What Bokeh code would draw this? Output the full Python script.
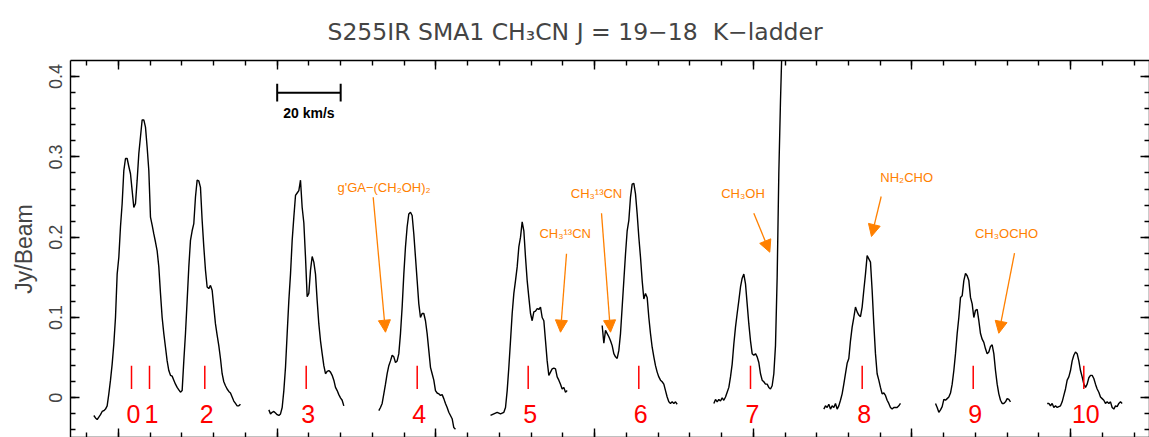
import numpy as np
from bokeh.plotting import figure
from bokeh.models import (Range1d, LinearAxis, SingleIntervalTicker, CustomJSTickFormatter,
                          Arrow, NormalHead)
from bokeh.core.properties import value
from bokeh.embed import file_html
from bokeh.resources import INLINE

# ---------------- data ----------------
TITLE = "S255IR SMA1 CH\u2083CN J = 19\u221218 \u00a0K\u2212ladder"
Y_LABEL = "Jy/Beam"
SCALE_BAR_TEXT = "20 km/s"
scale_bar_kms = 20.0

channel_width = 0.525  # km/s per channel (velocity axis, no labels shown)

# start velocity of each spectral window (km/s on the concatenated axis)
seg_start = [42.23, 97.37, 132.02, 167.21, 202.39, 237.57, 272.22, 307.41, 342.59]

flux_k012 = [-0.022, -0.025, -0.027, -0.024, -0.021, -0.017, -0.016, -0.014, -0.010, 0.005,
             0.022, 0.042, 0.067, 0.100, 0.154, 0.175, 0.213, 0.242, 0.283, 0.298,
             0.298, 0.288, 0.279, 0.258, 0.237, 0.242, 0.271, 0.304, 0.325, 0.346,
             0.346, 0.337, 0.312, 0.283, 0.225, 0.215, 0.204, 0.194, 0.183, 0.163,
             0.130, 0.100, 0.080, 0.063, 0.046, 0.034, 0.028, 0.027, 0.022, 0.017,
             0.013, 0.010, 0.007, 0.009, 0.046, 0.080, 0.121, 0.163, 0.196, 0.208,
             0.217, 0.250, 0.271, 0.270, 0.262, 0.221, 0.188, 0.159, 0.138, 0.136,
             0.140, 0.134, 0.113, 0.092, 0.078, 0.065, 0.049, 0.030, 0.020, 0.015,
             0.011, 0.008, 0.006, 0.001, -0.004, -0.007, -0.010, -0.010, -0.008]
flux_k3 = [-0.015, -0.020, -0.018, -0.017, -0.019, -0.021, -0.022, -0.020, -0.012, 0.009,
           0.038, 0.080, 0.121, 0.154, 0.196, 0.225, 0.252, 0.255, 0.258, 0.271,
           0.237, 0.218, 0.175, 0.126, 0.130, 0.159, 0.176, 0.169, 0.154, 0.121,
           0.092, 0.071, 0.055, 0.040, 0.030, 0.033, 0.034, 0.032, 0.028, 0.022,
           0.013, 0.009, 0.004, 0.000, -0.003, -0.010]
flux_k4 = [-0.016, -0.012, -0.007, 0.005, 0.017, 0.030, 0.040, 0.046, 0.053, 0.051,
           0.044, 0.046, 0.055, 0.080, 0.113, 0.154, 0.188, 0.213, 0.229, 0.231,
           0.227, 0.204, 0.175, 0.146, 0.117, 0.100, 0.105, 0.105, 0.096, 0.080,
           0.059, 0.038, 0.030, 0.022, 0.009, 0.006, 0.005, 0.003, 0.004, -0.001,
           -0.007, -0.012, -0.018, -0.022, -0.026, -0.037, -0.039]
flux_k5 = [-0.022, -0.021, -0.020, -0.019, -0.018, -0.019, -0.020, -0.019, -0.018, -0.012,
           0.009, 0.038, 0.071, 0.105, 0.130, 0.146, 0.163, 0.188, 0.200, 0.219,
           0.208, 0.175, 0.146, 0.125, 0.105, 0.096, 0.107, 0.108, 0.111, 0.110,
           0.113, 0.100, 0.096, 0.071, 0.046, 0.028, 0.032, 0.036, 0.037, 0.036,
           0.026, 0.022, 0.017, 0.011, 0.013, 0.007, 0.009]
flux_k6 = [0.090, 0.068, 0.084, 0.080, 0.076, 0.071, 0.065, 0.055, 0.051, 0.049,
           0.059, 0.080, 0.113, 0.146, 0.179, 0.208, 0.221, 0.250, 0.266, 0.267,
           0.254, 0.229, 0.200, 0.175, 0.146, 0.123, 0.130, 0.125, 0.100, 0.080,
           0.063, 0.051, 0.040, 0.032, 0.026, 0.022, 0.020, 0.017, 0.009, 0.001,
           -0.005, -0.007, -0.005, -0.007, -0.005, -0.008]
flux_k7 = [-0.007, -0.002, -0.005, -0.002, -0.004, 0.000, -0.003, 0.001, 0.007, 0.013,
           0.026, 0.042, 0.067, 0.088, 0.105, 0.121, 0.138, 0.149, 0.154, 0.142,
           0.117, 0.092, 0.071, 0.055, 0.053, 0.055, 0.051, 0.044, 0.030, 0.022,
           0.020, 0.017, 0.017, 0.013, 0.011, 0.015, 0.030, 0.065, 0.150, 0.280,
           0.370, 0.445, 0.550]
flux_k8 = [-0.014, -0.010, -0.012, -0.008, -0.014, -0.010, -0.012, -0.007, -0.014, -0.010,
           -0.003, 0.005, 0.017, 0.030, 0.043, 0.049, 0.071, 0.088, 0.100, 0.113,
           0.107, 0.103, 0.101, 0.113, 0.134, 0.154, 0.177, 0.173, 0.169, 0.134,
           0.092, 0.055, 0.030, 0.022, 0.013, 0.005, 0.006, 0.003, -0.003, -0.007,
           -0.012, -0.014, -0.012, -0.012, -0.012, -0.010, -0.007]
flux_k9 = [-0.007, -0.012, -0.018, -0.015, -0.011, -0.002, -0.003, -0.001, 0.001, 0.006,
           0.017, 0.034, 0.055, 0.080, 0.100, 0.125, 0.127, 0.146, 0.155, 0.152,
           0.146, 0.125, 0.117, 0.100, 0.109, 0.110, 0.096, 0.080, 0.073, 0.069,
           0.061, 0.055, 0.057, 0.064, 0.066, 0.055, 0.034, 0.017, 0.005, -0.003,
           -0.007, -0.007, -0.005, -0.001, -0.002, -0.005]
flux_k10 = [-0.007, -0.007, -0.010, -0.007, -0.012, -0.010, -0.012, -0.011, -0.010, -0.005,
            0.003, 0.011, 0.022, 0.026, 0.034, 0.046, 0.053, 0.057, 0.055, 0.046,
            0.034, 0.026, 0.017, 0.013, 0.017, 0.025, 0.028, 0.028, 0.024, 0.017,
            0.011, 0.007, 0.001, -0.001, -0.003, -0.007, -0.005, -0.007, -0.005, -0.012,
            -0.014, -0.010, -0.011, -0.007, -0.005, -0.007]

spectra = [flux_k012, flux_k3, flux_k4, flux_k5, flux_k6, flux_k7, flux_k8, flux_k9, flux_k10]

# K-component markers
k_labels = ["0", "1", "2", "3", "4", "5", "6", "7", "8", "9", "10"]
k_positions = [54.10, 59.77, 77.19, 109.14, 144.11, 179.08, 213.93, 249.12, 284.31, 319.29, 354.13]

# contaminating species
species = ["g'GA\u2212(CH\u2082OH)\u2082", "CH\u2083\u00b9\u00b3CN", "CH\u2083\u00b9\u00b3CN",
           "CH\u2083OH", "NH\u2082CHO", "CH\u2083OCHO"]

# ---------------- styles / layout ----------------
ORANGE = "#ff8000"
RED = "#ff0000"
FONT = "Liberation Sans"

# (text x, text y, arrow start x, start y, arrow tip x, tip y)
species_layout = [
    (133.65, 0.262, 130.25, 0.2498, 134.12, 0.0817),
    (190.74, 0.205, 191.15, 0.1793, 189.26, 0.0817),
    (200.60, 0.2548, 202.18, 0.2299, 205.01, 0.0817),
    (246.76, 0.2548, 250.16, 0.2299, 255.20, 0.1813),
    (298.33, 0.2747, 290.30, 0.2507, 287.24, 0.2009),
    (329.78, 0.205, 332.30, 0.1801, 327.35, 0.0804),
]

p = figure(width=1149, height=437, output_backend="svg", toolbar_location=None,
           x_range=Range1d(34.88, 374.83), y_range=Range1d(-0.0494, 0.4200),
           x_axis_location=None, y_axis_location=None,
           min_border_left=70, min_border_right=0, min_border_top=60, min_border_bottom=0)
p.xgrid.visible = False
p.ygrid.visible = False
p.outline_line_color = None
p.background_fill_color = "white"
p.border_fill_color = "white"

blank = CustomJSTickFormatter(code="return ''")
yfmt = CustomJSTickFormatter(code="return tick == 0 ? '0' : tick.toFixed(1)")


def style_axis(ax):
    ax.axis_line_color = "black"
    ax.axis_line_width = 1.4
    ax.major_tick_line_width = 1.4
    ax.minor_tick_line_width = 1.4
    ax.major_tick_in = 9
    ax.major_tick_out = 0
    ax.minor_tick_in = 5
    ax.minor_tick_out = 0


def blank_axis(ax):
    ax.major_label_standoff = 0
    ax.major_label_text_font_size = "0px"
    ax.axis_label_standoff = 0


left = LinearAxis(ticker=SingleIntervalTicker(interval=0.1, num_minor_ticks=5), formatter=yfmt,
                  axis_label=Y_LABEL)
style_axis(left)
left.major_label_orientation = "vertical"
left.major_label_text_font = FONT
left.major_label_text_font_size = "18px"
left.major_label_standoff = 8
left.axis_label_text_font = FONT
left.axis_label_text_font_size = "23px"
left.axis_label_text_font_style = "normal"
left.axis_label_standoff = 10
p.add_layout(left, "left")

right = LinearAxis(ticker=SingleIntervalTicker(interval=0.1, num_minor_ticks=5), formatter=blank)
style_axis(right)
blank_axis(right)
p.add_layout(right, "right")

for side in ("below", "above"):
    ax = LinearAxis(ticker=SingleIntervalTicker(interval=50, num_minor_ticks=5), formatter=blank)
    style_axis(ax)
    blank_axis(ax)
    p.add_layout(ax, side)

p.title.text = TITLE
p.title.text_font = "DejaVu Sans"
p.title.text_font_size = "23.5px"
p.title.text_font_style = "normal"
p.title.align = "left"
p.title.offset = 257
p.title.vertical_align = "bottom"
p.title.standoff = 29

# spectra
for x0, flux in zip(seg_start, spectra):
    v = x0 + channel_width * np.arange(len(flux))
    p.line(v, flux, line_color="black", line_width=1.4)

# K markers
p.segment(x0=k_positions, y0=[0.011] * len(k_positions), x1=k_positions,
          y1=[0.040] * len(k_positions), line_color=RED, line_width=1.5)
p.text(x=k_positions, y=[-0.0196] * len(k_positions), text=k_labels, x_offset=2,
       text_align="center", text_baseline="middle", text_color=RED,
       text_font=value(FONT), text_font_size="25px")

# species annotations
for name, (tx, ty, ax0, ay0, ax1, ay1) in zip(species, species_layout):
    p.text(x=[tx], y=[ty], text=[name], text_align="center", text_baseline="middle",
           text_color=ORANGE, text_font=value(FONT), text_font_size="13px")
    p.add_layout(Arrow(x_start=ax0, y_start=ay0, x_end=ax1, y_end=ay1,
                       line_color=ORANGE, line_width=1.3,
                       end=NormalHead(size=12, fill_color=ORANGE, line_color=ORANGE)))

# velocity scale bar
bar_x0 = 100.0
bar_y = 0.380
p.segment(x0=[bar_x0], y0=[bar_y], x1=[bar_x0 + scale_bar_kms], y1=[bar_y],
          line_color="black", line_width=2)
p.segment(x0=[bar_x0, bar_x0 + scale_bar_kms], y0=[bar_y - 0.011] * 2,
          x1=[bar_x0, bar_x0 + scale_bar_kms], y1=[bar_y + 0.011] * 2,
          line_color="black", line_width=2)
p.text(x=[bar_x0 + scale_bar_kms / 2], y=[0.355], text=[SCALE_BAR_TEXT], text_align="center",
       text_baseline="middle", text_color="black", text_font=value(FONT),
       text_font_size="14px", text_font_style="bold")

open("out.html", "w").write(file_html(p, INLINE))
